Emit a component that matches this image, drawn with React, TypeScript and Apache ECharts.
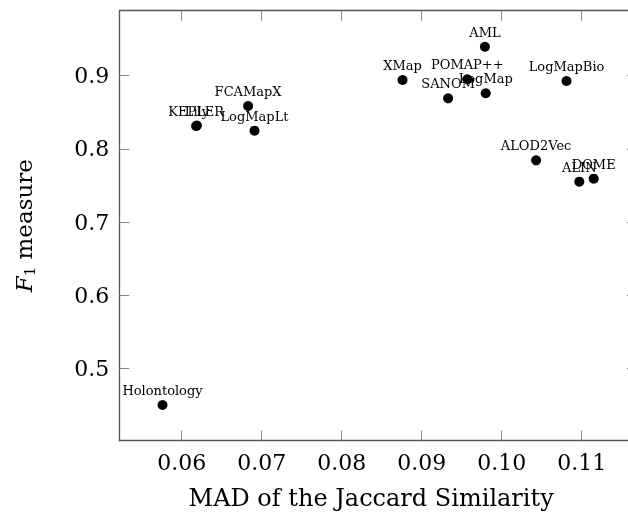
import React, { useEffect, useRef } from "react";
import * as echarts from "echarts";

const systems = ["AML", "XMap", "POMAP++", "SANOM", "LogMap", "LogMapBio", "FCAMapX", "KEPLER", "Lily", "LogMapLt", "ALOD2Vec", "ALIN", "DOME", "Holontology"];
const madValues = [0.0979, 0.0876, 0.0957, 0.0933, 0.098, 0.1081, 0.0683, 0.0618, 0.0619, 0.0691, 0.1043, 0.1097, 0.1115, 0.0576];
const f1Values = [0.9396, 0.8941, 0.8951, 0.8691, 0.876, 0.8928, 0.8586, 0.8313, 0.8318, 0.8249, 0.7844, 0.7552, 0.7593, 0.4501];
const xTicks = [0.06, 0.07, 0.08, 0.09, 0.1, 0.11];
const yTicks = [0.5, 0.6, 0.7, 0.8, 0.9];

const SERIF = "'DejaVu Serif', serif";

export default function App() {
  const ref = useRef<HTMLDivElement>(null);
  useEffect(() => {
    if (!ref.current) return;
    const chart = echarts.init(ref.current, null, { renderer: "svg" });
    const axisLine = { show: true, onZero: false, lineStyle: { color: "#555", width: 1.3 } };
    const tick = (vals: number[]) => ({ show: true, inside: true, length: 10, customValues: vals, lineStyle: { color: "#888", width: 1 } });
    const xMin = 0.0522, xMax = 0.11691, yMin = 0.40137, yMax = 0.9888;
    chart.setOption({
      animation: false,
      grid: { left: 119.3, top: 10.7, bottom: 75.3, right: 3, containLabel: false },
      xAxis: [
        {
          type: "value", min: xMin, max: xMax, position: "bottom",
          axisLine, axisTick: tick(xTicks), splitLine: { show: false },
          axisLabel: { customValues: xTicks, formatter: (v: number) => v.toFixed(2), fontFamily: SERIF, fontSize: 22, color: "#000", margin: 11 },
          name: "MAD of the Jaccard Similarity", nameLocation: "middle", nameGap: 45,
          nameTextStyle: { fontFamily: SERIF, fontSize: 24, color: "#000", padding: [0, 14, 0, 0] },
        },
        {
          type: "value", min: xMin, max: xMax, position: "top",
          axisLine, axisTick: tick(xTicks), splitLine: { show: false }, axisLabel: { show: false },
        },
      ],
      yAxis: [
        {
          type: "value", min: yMin, max: yMax, position: "left",
          axisLine, axisTick: tick(yTicks), splitLine: { show: false },
          axisLabel: { customValues: yTicks, formatter: (v: number) => v.toFixed(1), fontFamily: SERIF, fontSize: 22, color: "#000", margin: 10 },
          name: "{i|F}{s|1} measure", nameLocation: "middle", nameGap: 82, nameRotate: 90,
          nameTextStyle: {
            fontFamily: SERIF, fontSize: 23, color: "#000",
            rich: {
              i: { fontFamily: SERIF, fontSize: 23, fontStyle: "italic", color: "#000" },
              s: { fontFamily: SERIF, fontSize: 15, color: "#000", padding: [11, 0, 0, 0] },
            },
          },
        },
        {
          type: "value", min: yMin, max: yMax, position: "right",
          axisLine, axisTick: tick(yTicks), splitLine: { show: false }, axisLabel: { show: false },
        },
      ],
      series: [
        {
          type: "scatter",
          symbol: "circle",
          symbolSize: 10,
          itemStyle: { color: "#000", opacity: 1 },
          data: systems.map((n, i) => ({ name: n, value: [madValues[i], f1Values[i]] })),
          label: {
            show: true, position: "top", distance: 3,
            formatter: (p: any) => p.name,
            fontFamily: SERIF, fontSize: 13, color: "#000",
          },
        },
      ],
    });
    return () => chart.dispose();
  }, []);
  return (
    <div style={{ position: "fixed", left: 0, top: 0, width: 628, height: 516, overflow: "hidden" }}>
      <div ref={ref} style={{ width: 640, height: 516 }} />
    </div>
  );
}
